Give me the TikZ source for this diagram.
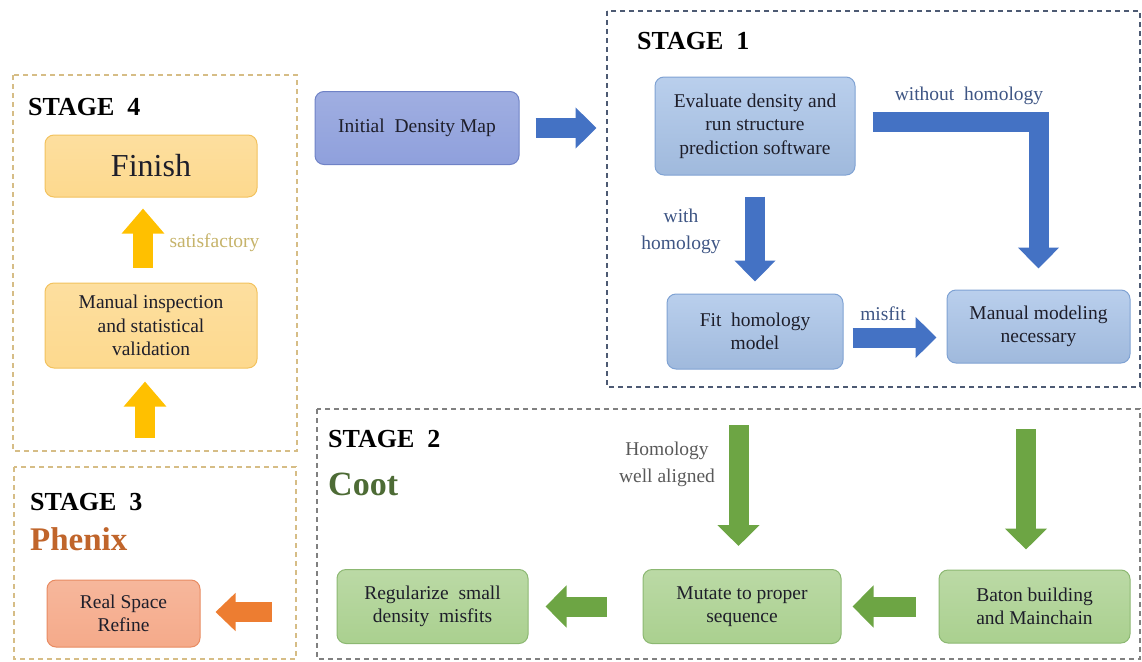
\documentclass[tikz,border=0pt]{standalone}
\usepackage{fontspec}
\setmainfont{Liberation Serif}
\usetikzlibrary{arrows.meta,positioning,calc}

\definecolor{textdark}{HTML}{1E1E2A}
\definecolor{initfill}{HTML}{8FA0DC}
\definecolor{initline}{HTML}{6F82C6}
\definecolor{bluefill}{HTML}{A8C3E8}
\definecolor{blueline}{HTML}{7FA2D3}
\definecolor{arrowblue}{HTML}{4472C4}
\definecolor{labelblue}{HTML}{3E5584}
\definecolor{goldfill}{HTML}{FDD98E}
\definecolor{goldline}{HTML}{F2C25E}
\definecolor{arrowgold}{HTML}{FFC000}
\definecolor{satisfy}{HTML}{C6B36A}
\definecolor{orangefill}{HTML}{F5AA8A}
\definecolor{orangeline}{HTML}{E88B62}
\definecolor{arroworange}{HTML}{ED7D31}
\definecolor{phenixorange}{HTML}{C0652B}
\definecolor{greenfill}{HTML}{AAD08F}
\definecolor{greenline}{HTML}{8CB872}
\definecolor{arrowgreen}{HTML}{6DA544}
\definecolor{cootgreen}{HTML}{4D6B35}
\definecolor{graytext}{HTML}{595959}
\definecolor{frametan}{HTML}{D6BD86}
\definecolor{framedark}{HTML}{4D5A73}
\definecolor{framegray}{HTML}{808080}

\begin{document}
\begin{tikzpicture}[x=1pt, y=-1pt,
    box/.style={rectangle, rounded corners=9pt, draw, line width=1pt, align=center, inner sep=2pt, text=textdark, font=\fontsize{19.5}{23.5}\selectfont},
    initbox/.style={box, top color=initfill!85!white, bottom color=initfill, draw=initline},
    bluebox/.style={box, top color=bluefill!80!white, bottom color=bluefill!95!black, draw=blueline},
    goldbox/.style={box, top color=goldfill!85!white, bottom color=goldfill, draw=goldline},
    orangebox/.style={box, top color=orangefill!85!white, bottom color=orangefill, draw=orangeline},
    greenbox/.style={box, top color=greenfill!80!white, bottom color=greenfill, draw=greenline},
    stageframe/.style={line width=1.2pt, dash pattern=on 5pt off 4pt},
    stagetitle/.style={anchor=base west, inner sep=0pt, text=black, font=\fontsize{26}{30}\selectfont\bfseries},
    flowlabel/.style={inner sep=0pt, align=center, font=\fontsize{19.5}{27}\selectfont},
    blockarrow/.style={line width=20pt, line join=miter},
    bluearrow/.style={blockarrow, draw=arrowblue, -{Triangle[width=40pt,length=21pt]}},
    goldarrow/.style={blockarrow, draw=arrowgold, -{Triangle[width=41pt,length=25pt]}},
    orangearrow/.style={blockarrow, draw=arroworange, -{Triangle[width=37pt,length=20pt]}},
    greenarrow/.style={blockarrow, draw=arrowgreen, -{Triangle[width=41pt,length=21pt]}}]

    \useasboundingbox (0,0) rectangle (1142,661);

        % Stage frames
    \draw [stageframe, draw=frametan] (13,75) rectangle (297,451);
    \draw [stageframe, draw=frametan] (14,467) rectangle (296,659);
    \draw [stageframe, draw=framedark] (607,11) rectangle (1140,387);
    \draw [stageframe, draw=framegray] (317,409) rectangle (1140,659);

    \node (s4) [stagetitle] at (28,115) {STAGE\ \ 4};
    \node (s1) [stagetitle] at (637,50) {STAGE\ \ 1};
    \node (s2) [stagetitle] at (328,447) {STAGE\ \ 2};
    \node (s3) [stagetitle] at (30,510) {STAGE\ \ 3};
    \node (phenix) [stagetitle, text=phenixorange, font=\fontsize{33}{36}\selectfont\bfseries] at (30,550) {Phenix};
    \node (coot) [stagetitle, text=cootgreen, font=\fontsize{34}{37}\selectfont\bfseries] at (328,495) {Coot};

        % Nodes
    \node (init) [initbox, minimum width=204pt, minimum height=73pt] at (417,128) {Initial\ \ Density Map};
    \node (eval) [bluebox, minimum width=200pt, minimum height=98pt] at (755,126) {Evaluate density and\\run structure\\prediction software};
    \node (fit) [bluebox, minimum width=176pt, minimum height=75pt, below=118pt of eval] {Fit\ \ homology\\model};
    \node (manual) [bluebox, minimum width=183pt, minimum height=73pt] at (1038.5,326.5) {Manual modeling\\necessary};

    \node (finish) [goldbox, minimum width=212pt, minimum height=62pt, font=\fontsize{32}{36}\selectfont] at (151,166) {Finish};
    \node (inspect) [goldbox, minimum width=212pt, minimum height=85pt, below=85pt of finish] {Manual inspection\\and statistical\\validation};

    \node (refine) [orangebox, minimum width=153pt, minimum height=67pt] at (123.5,613.5) {Real Space\\Refine};

    \node (baton) [greenbox, minimum width=191pt, minimum height=73pt] at (1034.5,606.5) {Baton building\\and Mainchain};
    \node (mutate) [greenbox, minimum width=198pt, minimum height=74pt, left=97pt of baton] {Mutate to proper\\sequence};
    \node (regular) [greenbox, minimum width=191pt, minimum height=74pt, left=114pt of mutate] {Regularize\ \ small\\density\ \ misfits};

        % Labels
    \node (withouttxt) [flowlabel, text=labelblue] at (969,96) {without\ \ homology};
    \node (withtxt) [flowlabel, text=labelblue] at (681,231) {with\\homology};
    \node (misfittxt) [flowlabel, text=labelblue] at (883,314) {misfit};
    \node (satistxt) [flowlabel, text=satisfy] at (214.5,243) {satisfactory};
    \node (alignedtxt) [flowlabel, text=graytext] at (667,464) {Homology\\well\ aligned};

    \coordinate (goldstart) at (145,438);
    \coordinate (orangestart) at (272,612);
    \coordinate (greenAtop) at (738.5,425);
    \coordinate (greenBtop) at (1026,429);

        % Arrows
    \draw [bluearrow, shorten <=16pt, shorten >=58pt] (init.east) -- (init.east -| eval.west);
    \draw [bluearrow, shorten <=21pt, shorten >=12pt] (eval.south) -- (fit.north);
    \draw [bluearrow, shorten <=17pt, shorten >=21pt] ([yshift=4pt]eval.east) -| (manual.north);
    \draw [bluearrow, shorten <=9pt, shorten >=10pt] ([yshift=-6pt]fit.east) -- ([yshift=-6pt]fit.east -| manual.west);

    \draw [goldarrow, shorten <=15pt, shorten >=11pt] ([xshift=-8pt]inspect.north) -- ([xshift=-8pt]finish.south);
    \draw [goldarrow, shorten >=13pt] (goldstart) -- (goldstart |- inspect.south);

    \draw [orangearrow, shorten >=15pt] (orangestart) -- (orangestart -| refine.east);

    \draw [greenarrow, shorten >=23pt] (greenAtop) -- (greenAtop |- mutate.north);
    \draw [greenarrow, shorten >=20pt] (greenBtop) -- (greenBtop |- baton.north);
    \draw [greenarrow, shorten <=23pt, shorten >=11pt] (baton.west) -- (mutate.east);
    \draw [greenarrow, shorten <=36pt, shorten >=17pt] (mutate.west) -- (regular.east);

\end{tikzpicture}
\end{document}
